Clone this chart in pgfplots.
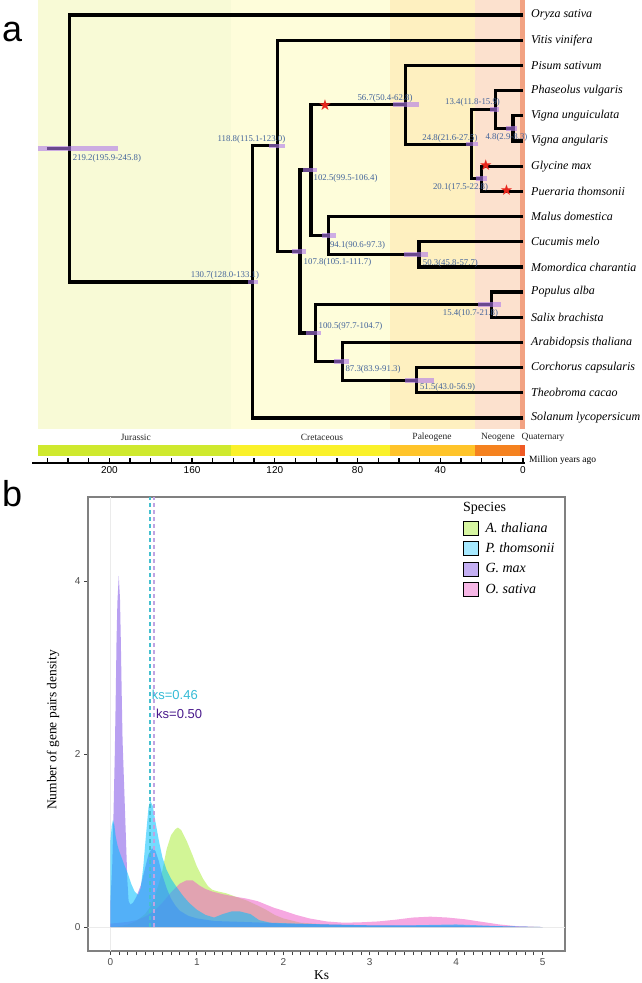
\documentclass[border=0pt]{standalone}
\usepackage{fontspec}
\setmainfont{Liberation Serif}
\setsansfont{Liberation Sans}
\newfontfamily\symfont{DejaVu Sans}
\usepackage{pgfplots}
\pgfplotsset{compat=1.18}

\definecolor{hpd}{HTML}{AF78EB}
\definecolor{nlab}{HTML}{42639A}
\definecolor{bgJ}{HTML}{F8FAD6}
\definecolor{bgK}{HTML}{FEFDDA}
\definecolor{bgP}{HTML}{FEF0C0}
\definecolor{bgN}{HTML}{FCE1CE}
\definecolor{bgQ}{HTML}{F2A282}
\definecolor{barJ}{HTML}{CFE92E}
\definecolor{barK}{HTML}{FAF12A}
\definecolor{barP}{HTML}{FFC42A}
\definecolor{barN}{HTML}{F5821F}
\definecolor{barQ}{HTML}{EF5A24}
\definecolor{starred}{HTML}{E8261C}
\definecolor{cAth}{HTML}{A6EB2E}
\definecolor{cPth}{HTML}{00BFFF}
\definecolor{cGma}{HTML}{8A60E8}
\definecolor{cOsa}{HTML}{EE60C8}
\definecolor{axgray}{HTML}{808080}
\definecolor{labgray}{HTML}{4D4D4D}
\definecolor{dash46}{HTML}{45C0CF}
\definecolor{dash50}{HTML}{BFA3E3}
\definecolor{txt46}{HTML}{35BBD6}
\definecolor{txt50}{HTML}{4A1A8C}

\begin{document}
\begin{tikzpicture}
\useasboundingbox (0pt,0pt) rectangle (642pt,-983pt);
\node[anchor=base west, inner sep=0, font=\sffamily\fontsize{36}{36}\selectfont] at (2pt,-41pt) {a};
\node[anchor=base west, inner sep=0, font=\sffamily\fontsize{36}{36}\selectfont] at (2pt,-506pt) {b};

% ---------------- panel a : dated tree ----------------
\begin{axis}[
  at={(32pt,-463pt)}, anchor=south west, scale only axis,
  width=493pt, height=463pt,
  xmin=-0.97, xmax=237.4, x dir=reverse,
  ymin=-18.785, ymax=-0.4045,
  clip=false,
  axis x line*=bottom, axis y line=none,
  x axis line style={line width=2.6pt, black},
  xtick={0,40,...,200}, minor xtick={10,20,...,230},
  tick align=inside, major tick length=5pt, minor tick length=5pt,
  tick style={black, line width=1.3pt},
  xticklabel style={font=\sffamily\fontsize{10}{12}\selectfont},
  /pgf/number format/assume math mode=true,
]
% era backgrounds
\addplot[draw=none, fill=bgJ, mark=none, forget plot] coordinates {(234.5,-0.4045) (141,-0.4045) (141,-17.435) (234.5,-17.435)} -- cycle;
\addplot[draw=none, fill=bgK, mark=none, forget plot] coordinates {(141,-0.4045) (64.3,-0.4045) (64.3,-17.435) (141,-17.435)} -- cycle;
\addplot[draw=none, fill=bgP, mark=none, forget plot] coordinates {(64.3,-0.4045) (23,-0.4045) (23,-17.435) (64.3,-17.435)} -- cycle;
\addplot[draw=none, fill=bgN, mark=none, forget plot] coordinates {(23,-0.4045) (1.45,-0.4045) (1.45,-17.435) (23,-17.435)} -- cycle;
\addplot[draw=none, fill=bgQ, mark=none, forget plot] coordinates {(1.45,-0.4045) (-0.97,-0.4045) (-0.97,-17.435) (1.45,-17.435)} -- cycle;
% era colour bar
\addplot[draw=none, fill=barJ, mark=none, forget plot] coordinates {(234.5,-18.09) (141,-18.09) (141,-18.49) (234.5,-18.49)} -- cycle;
\addplot[draw=none, fill=barK, mark=none, forget plot] coordinates {(141,-18.09) (64.3,-18.09) (64.3,-18.49) (141,-18.49)} -- cycle;
\addplot[draw=none, fill=barP, mark=none, forget plot] coordinates {(64.3,-18.09) (23,-18.09) (23,-18.49) (64.3,-18.49)} -- cycle;
\addplot[draw=none, fill=barN, mark=none, forget plot] coordinates {(23,-18.09) (1.45,-18.09) (1.45,-18.49) (23,-18.49)} -- cycle;
\addplot[draw=none, fill=barQ, mark=none, forget plot] coordinates {(1.45,-18.09) (-0.97,-18.09) (-0.97,-18.49) (1.45,-18.49)} -- cycle;
\node[font=\fontsize{9.5}{10}\selectfont, text=black!85] at (axis cs:187.2,-17.77) {Jurassic};
\node[font=\fontsize{9.5}{10}\selectfont, text=black!85] at (axis cs:97.2,-17.77) {Cretaceous};
\node[font=\fontsize{9.5}{10}\selectfont, text=black!85] at (axis cs:44.0,-17.77) {Paleogene};
\node[font=\fontsize{9.5}{10}\selectfont, text=black!85] at (axis cs:12.1,-17.77) {Neogene};
\node[font=\fontsize{9.5}{10}\selectfont, text=black!85] at (axis cs:-9.7,-17.77) {Quaternary};

% tree branches (age, -row)
\addplot[black, mark=none, line width=3.2pt, line join=miter, unbounded coords=jump, forget plot] coordinates {
 (0,-5) (4.8,-5) (4.8,-6) (0,-6) (nan,nan)
 (0,-4) (13.4,-4) (13.4,-5.5) (4.8,-5.5) (nan,nan)
 (0,-7) (20.1,-7) (20.1,-8) (0,-8) (nan,nan)
 (13.4,-4.75) (24.8,-4.75) (24.8,-7.5) (20.1,-7.5) (nan,nan)
 (0,-3) (56.7,-3) (56.7,-6.125) (24.8,-6.125) (nan,nan)
 (0,-10) (50.3,-10) (50.3,-11) (0,-11) (nan,nan)
 (0,-9) (94.1,-9) (94.1,-10.5) (50.3,-10.5) (nan,nan)
 (56.7,-4.5625) (102.5,-4.5625) (102.5,-9.75) (94.1,-9.75) (nan,nan)
 (0,-12) (15.4,-12) (15.4,-13) (0,-13) (nan,nan)
 (0,-15) (51.5,-15) (51.5,-16) (0,-16) (nan,nan)
 (0,-14) (87.3,-14) (87.3,-15.5) (51.5,-15.5) (nan,nan)
 (15.4,-12.5) (100.5,-12.5) (100.5,-14.75) (87.3,-14.75) (nan,nan)
 (102.5,-7.15625) (107.8,-7.15625) (107.8,-13.625) (100.5,-13.625) (nan,nan)
 (0,-2) (118.8,-2) (118.8,-10.3906) (107.8,-10.3906) (nan,nan)
 (118.8,-6.1953) (130.7,-6.1953) (130.7,-17) (0,-17) (nan,nan)
 (0,-1) (219.2,-1) (219.2,-11.5977) (130.7,-11.5977) (nan,nan)
 (230,-6.2988) (219.2,-6.2988)
};
% 95% HPD bars
\addplot[hpd, mark=none, opacity=0.6, line width=4.5pt, unbounded coords=jump, forget plot] coordinates {
 (195.9,-6.2988) (234.5,-6.2988) (nan,nan)
 (128.0,-11.5977) (133.1,-11.5977) (nan,nan)
 (115.1,-6.1953) (123.0,-6.1953) (nan,nan)
 (105.1,-10.3906) (111.7,-10.3906) (nan,nan)
 (99.5,-7.15625) (106.4,-7.15625) (nan,nan)
 (97.7,-13.625) (104.7,-13.625) (nan,nan)
 (90.6,-9.75) (97.3,-9.75) (nan,nan)
 (83.9,-14.75) (91.3,-14.75) (nan,nan)
 (50.4,-4.5625) (62.8,-4.5625) (nan,nan)
 (43.0,-15.5) (56.9,-15.5) (nan,nan)
 (45.8,-10.5) (57.7,-10.5) (nan,nan)
 (21.6,-6.125) (27.5,-6.125) (nan,nan)
 (17.5,-7.5) (22.8,-7.5) (nan,nan)
 (10.7,-12.5) (21.8,-12.5) (nan,nan)
 (11.8,-4.75) (15.9,-4.75) (nan,nan)
 (2.9,-5.5) (8.3,-5.5)
};
% stars
\addplot[only marks, mark=text, text mark={\symfont ★}, text mark as node=true,
  text mark style={text=starred, font=\fontsize{15}{15}\selectfont, inner sep=0pt, anchor=center},
  forget plot] coordinates {(95.7,-4.58) (18.0,-6.96) (7.9,-7.97)};

% node age labels
\begin{scope}[every node/.style={font=\fontsize{8.8}{9}\selectfont, text=nlab, inner sep=0}]
\node at (axis cs:201.2,-6.677) {219.2(195.9-245.8)};
\node at (axis cs:131.3,-5.923) {118.8(115.1-123.0)};
\node at (axis cs:144.1,-11.322) {130.7(128.0-133.1)};
\node at (axis cs:89.7,-10.805) {107.8(105.1-111.7)};
\node at (axis cs:85.8,-7.471) {102.5(99.5-106.4)};
\node at (axis cs:80.0,-10.131) {94.1(90.6-97.3)};
\node at (axis cs:66.7,-4.295) {56.7(50.4-62.8)};
\node at (axis cs:35.3,-5.883) {24.8(21.6-27.5)};
\node at (axis cs:24.4,-4.454) {13.4(11.8-15.9)};
\node at (axis cs:8.0,-5.843) {4.8(2.9-8.3)};
\node at (axis cs:30.2,-7.828) {20.1(17.5-22.8)};
\node at (axis cs:35.1,-10.845) {50.3(45.8-57.7)};
\node at (axis cs:25.4,-12.830) {15.4(10.7-21.8)};
\node at (axis cs:83.4,-13.346) {100.5(97.7-104.7)};
\node at (axis cs:72.5,-15.053) {87.3(83.9-91.3)};
\node at (axis cs:36.5,-15.768) {51.5(43.0-56.9)};
\end{scope}
% leaf names
\begin{scope}[every node/.style={anchor=west, inner sep=0, font=\itshape\fontsize{12}{12}\selectfont}]
\node at (axis cs:-3.87,-1) {Oryza sativa};
\node at (axis cs:-3.87,-2) {Vitis vinifera};
\node at (axis cs:-3.87,-3) {Pisum sativum};
\node at (axis cs:-3.87,-4) {Phaseolus vulgaris};
\node at (axis cs:-3.87,-5) {Vigna unguiculata};
\node at (axis cs:-3.87,-6) {Vigna angularis};
\node at (axis cs:-3.87,-7) {Glycine max};
\node at (axis cs:-3.87,-8) {Pueraria thomsonii};
\node at (axis cs:-3.87,-9) {Malus domestica};
\node at (axis cs:-3.87,-10) {Cucumis melo};
\node at (axis cs:-3.87,-11) {Momordica charantia};
\node at (axis cs:-3.87,-12) {Populus alba};
\node at (axis cs:-3.87,-13) {Salix brachista};
\node at (axis cs:-3.87,-14) {Arabidopsis thaliana};
\node at (axis cs:-3.87,-15) {Corchorus capsularis};
\node at (axis cs:-3.87,-16) {Theobroma cacao};
\node at (axis cs:-3.87,-17) {Solanum lycopersicum};
\end{scope}
\node[anchor=west, inner sep=0, font=\fontsize{9.5}{10}\selectfont] at (axis cs:-2.9,-18.666) {Million years ago};
\end{axis}

% ---------------- panel b : Ks density ----------------
\begin{axis}[
  at={(88pt,-951pt)}, anchor=south west, scale only axis,
  width=477pt, height=454pt,
  xmin=-0.26, xmax=5.26, ymin=-0.277, ymax=4.971,
  no markers,
  axis line style={draw=axgray, line width=1.1pt},
  tick pos=left, tick align=outside,
  xtick={0,1,2,3,4,5}, minor xtick={0.1,0.2,...,4.95},
  ytick={0,2,4},
  major tick length=4pt, minor tick length=4pt,
  tick style={black!75, line width=0.8pt},
  ticklabel style={font=\sffamily\fontsize{10}{12}\selectfont, text=labgray},
  /pgf/number format/assume math mode=true,
  xlabel={Ks}, ylabel={Number of gene pairs density},
  label style={font=\fontsize{13.5}{14}\selectfont},
  xlabel style={at={(axis description cs:0.49,-0.0529)}, anchor=center},
  ylabel style={at={(axis description cs:-0.0734,0.487)}, anchor=center},
  legend style={at={(axis description cs:0.786,0.9482)}, anchor=north west,
    draw=none, fill=none, inner sep=0pt, row sep=6pt,
    font=\itshape\fontsize{14}{16}\selectfont,
    nodes={inner sep=0pt, anchor=west}},
  legend cell align=left,
  legend image code/.code={\fill[#1] (0pt,-7pt) rectangle (15pt,7pt); \path (22pt,0pt);},
]
\addplot[color=black!8, line width=0.8pt, forget plot] coordinates {(0,-0.277) (0,4.971)};
\addplot[color=black!8, line width=0.8pt, forget plot] coordinates {(-0.26,0) (5.26,0)};
% A. thaliana
\addplot[draw=none, fill=cAth, fill opacity=0.5, forget plot] coordinates {
(0,0) (0.1,0.01) (0.2,0.03) (0.3,0.07) (0.4,0.15) (0.45,0.22) (0.5,0.33) (0.55,0.47) (0.6,0.65) (0.65,0.9) (0.7,1.06) (0.75,1.13) (0.78,1.15) (0.82,1.12) (0.88,1.0) (0.95,0.83) (1.0,0.7) (1.07,0.56) (1.13,0.47) (1.18,0.43) (1.25,0.41) (1.34,0.39) (1.45,0.35) (1.57,0.31) (1.7,0.25) (1.8,0.2) (1.9,0.14) (2.0,0.1) (2.2,0.05) (2.5,0.03) (3.0,0.015) (3.5,0.01) (4.0,0.01) (4.5,0.005) (5.0,0)
} \closedcycle;
% O. sativa
\addplot[draw=none, fill=cOsa, fill opacity=0.55, forget plot] coordinates {
(0,0.04) (0.1,0.05) (0.2,0.06) (0.3,0.08) (0.4,0.12) (0.5,0.18) (0.6,0.28) (0.7,0.4) (0.8,0.5) (0.88,0.54) (0.95,0.54) (1.03,0.48) (1.1,0.44) (1.18,0.41) (1.3,0.38) (1.45,0.35) (1.57,0.33) (1.7,0.3) (1.8,0.26) (1.9,0.22) (2.0,0.19) (2.15,0.14) (2.3,0.1) (2.5,0.065) (2.7,0.05) (2.9,0.055) (3.1,0.065) (3.3,0.085) (3.5,0.11) (3.7,0.12) (3.9,0.11) (4.1,0.09) (4.3,0.06) (4.5,0.03) (4.7,0.01) (5.0,0)
} \closedcycle;
% G. max
\addplot[draw=none, fill=cGma, fill opacity=0.6, forget plot] coordinates {
(0,0.3) (0.02,0.7) (0.035,1.3) (0.05,2.0) (0.06,2.6) (0.07,3.3) (0.08,3.75) (0.096,4.06) (0.11,3.8) (0.12,3.3) (0.13,2.7) (0.14,2.16) (0.16,1.58) (0.18,1.0) (0.195,0.55) (0.21,0.3) (0.23,0.26) (0.26,0.28) (0.3,0.35) (0.35,0.48) (0.4,0.68) (0.44,0.84) (0.48,0.91) (0.52,0.88) (0.56,0.76) (0.6,0.6) (0.65,0.45) (0.7,0.33) (0.75,0.25) (0.8,0.19) (0.9,0.13) (1.0,0.1) (1.2,0.07) (1.5,0.06) (1.8,0.05) (2.0,0.04) (2.5,0.03) (3.0,0.02) (3.5,0.02) (4.0,0.02) (4.5,0.01) (5.0,0)
} \closedcycle;
% P. thomsonii
\addplot[draw=none, fill=cPth, fill opacity=0.55, forget plot] coordinates {
(0,1.0) (0.015,1.17) (0.03,1.24) (0.045,1.18) (0.06,1.05) (0.08,0.95) (0.1,0.88) (0.13,0.8) (0.16,0.72) (0.2,0.62) (0.24,0.5) (0.28,0.41) (0.32,0.37) (0.35,0.45) (0.38,0.7) (0.41,1.05) (0.44,1.38) (0.46,1.46) (0.49,1.4) (0.52,1.22) (0.56,1.0) (0.6,0.81) (0.65,0.66) (0.7,0.56) (0.76,0.47) (0.84,0.36) (0.91,0.28) (1.0,0.2) (1.1,0.14) (1.2,0.11) (1.3,0.15) (1.4,0.18) (1.5,0.18) (1.62,0.15) (1.72,0.08) (1.85,0.05) (2.0,0.045) (2.5,0.03) (3.0,0.02) (3.5,0.02) (4.0,0.03) (4.5,0.01) (5.0,0)
} \closedcycle;
% median Ks lines
\addplot[color=dash46, line width=1.8pt, dash pattern=on 4pt off 3pt, forget plot] coordinates {(0.46,0) (0.46,4.971)};
\addplot[color=dash50, line width=1.8pt, dash pattern=on 4pt off 3pt, forget plot] coordinates {(0.50,0) (0.50,4.971)};
\node[anchor=west, inner sep=0, text=txt46, font=\sffamily\fontsize{13}{13}\selectfont] at (axis cs:0.477,2.68) {ks=0.46};
\node[anchor=west, inner sep=0, text=txt50, font=\sffamily\fontsize{13}{13}\selectfont] at (axis cs:0.527,2.47) {ks=0.50};
% legend
\addlegendimage{fill=cAth, fill opacity=0.45}
\addlegendentry{A. thaliana}
\addlegendimage{fill=cPth, fill opacity=0.35}
\addlegendentry{P. thomsonii}
\addlegendimage{fill=cGma, fill opacity=0.5}
\addlegendentry{G. max}
\addlegendimage{fill=cOsa, fill opacity=0.45}
\addlegendentry{O. sativa}
\end{axis}
\node[anchor=west, inner sep=0, font=\fontsize{14}{14}\selectfont] at (463pt,-508pt) {Species};
\end{tikzpicture}
\end{document}
